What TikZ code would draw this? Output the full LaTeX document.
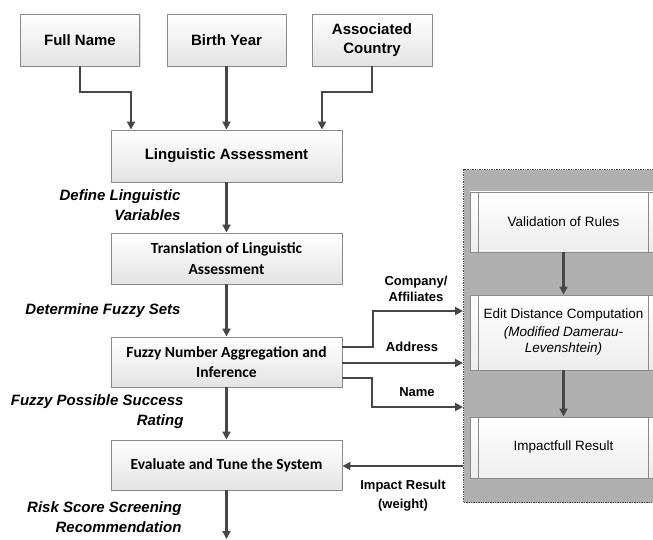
\documentclass[tikz,border=0pt]{standalone}
\usepackage{fontspec}
\setmainfont{Liberation Sans}
\newfontfamily\calib{Carlito}
\usetikzlibrary{arrows.meta,shadows}
\definecolor{boxline}{HTML}{8A8A8A}
\definecolor{arr}{HTML}{474747}
\definecolor{panelfill}{HTML}{B0B0B0}
\begin{document}
\begin{tikzpicture}[x=1pt,y=-1pt,
  box/.style={draw=boxline,line width=0.9pt,top color=white,bottom color=black!11,
    drop shadow={shadow xshift=1.2pt,shadow yshift=-1.2pt,opacity=0.25},
    align=center,inner sep=2pt},
  pbox/.style={draw=boxline,line width=0.9pt,top color=white,bottom color=black!7,
    align=center,inner sep=2pt,font=\fontsize{13.5}{18}\selectfont},
  toptext/.style={font=\fontsize{15}{19}\selectfont\bfseries},
  caltext/.style={font=\calib\fontsize{15.5}{20.5}\selectfont\bfseries},
  lab/.style={font=\fontsize{15}{20}\selectfont\bfseries\itshape,align=right,anchor=east},
  clab/.style={font=\fontsize{13}{16}\selectfont\bfseries,align=center},
  conn/.style={draw=arr,line width=2.3pt,-{Triangle[length=8pt,width=8pt]}}
]
\useasboundingbox[fill=white] (0,0) rectangle (653,540);

% right panel
\node (panel) [draw=arr,dash pattern=on 1.4pt off 1pt,line width=1.4pt,fill=panelfill,
  minimum width=214pt,minimum height=333pt,anchor=north west,inner sep=0pt] at (463,169) {};
\node (val) [pbox,minimum width=187pt,minimum height=60pt] at (563.5,222) {Validation of Rules};
\node (ed) [pbox,minimum width=187pt,minimum height=75pt] at (563.5,332.5)
  {Edit Distance Computation\\[-0.5pt]\textit{(Modified Damerau-}\\[-1.5pt]\textit{Levenshtein)}};
\node (im) [pbox,minimum width=187pt,minimum height=61pt] at (563.5,447.5) {Impactfull Result};
\foreach \b in {val,ed,im}{
  \draw[boxline,line width=0.9pt] ([xshift=9pt]\b.north west) -- ([xshift=9pt]\b.south west);
  \draw[boxline,line width=0.9pt] ([xshift=-9pt]\b.north east) -- ([xshift=-9pt]\b.south east);
}

% left column boxes
\node (fn) [box,toptext,minimum width=119pt,minimum height=52pt] at (80,40) {Full Name};
\node (by) [box,toptext,minimum width=119pt,minimum height=52pt] at (226.5,40) {Birth Year};
\node (ac) [box,toptext,minimum width=120pt,minimum height=52pt] at (372,40) {Associated\\Country};
\node (la) [box,toptext,minimum width=231pt,minimum height=52pt] at (226.5,156) {Linguistic Assessment};
\node (tr) [box,caltext,minimum width=231pt,minimum height=51pt] at (226.5,258.5) {Translation of Linguistic\\Assessment};
\node (fz) [box,caltext,minimum width=231pt,minimum height=50pt] at (226.5,362) {Fuzzy Number Aggregation and\\Inference};
\node (ev) [box,caltext,minimum width=231pt,minimum height=50pt] at (226.5,465) {Evaluate and Tune the System};

% labels
\node[lab] at (184,205) {Define Linguistic\\Variables};
\node[lab] at (184,311) {Determine Fuzzy Sets};
\node[lab] at (187,411.5) {Fuzzy Possible Success\\Rating};
\node[lab] at (185,517) {Risk Score Screening\\Recommendation};
\node[clab] at (416,289) {Company/\\Affiliates};
\node[clab] at (412,347) {Address};
\node[clab] at (417,392) {Name};
\node[clab] at (403,495.5) {Impact Result\\[3pt](weight)};

% connectors top
\coordinate (j1) at (131,92);
\coordinate (j2) at (322,92);
\draw[conn] (fn.south) |- (j1) -- (j1 |- la.north);
\draw[conn] (by.south) -- (by.south |- la.north);
\draw[conn] (ac.south) |- (j2) -- (j2 |- la.north);

% main column
\coordinate (out) at (226.5,539);
\draw[conn] (la.south) -- (tr.north);
\draw[conn] (tr.south) -- (fz.north);
\draw[conn] (fz.south) -- (ev.north);
\draw[conn] (ev.south) -- (out);

% fuzzy to panel
\coordinate (f1) at ([yshift=15pt]fz.east);
\coordinate (f2) at ([yshift=-1pt]fz.east);
\coordinate (f3) at ([yshift=-16pt]fz.east);
\coordinate (c1) at (373,311);
\coordinate (c3) at (372,407);
\draw[conn] (f1) -| (c1) -- (c1 -| panel.west);
\draw[conn] (f2) -- (f2 -| panel.west);
\draw[conn] (f3) -| (c3) -- (c3 -| panel.west);

% impact back
\coordinate (ir) at (463,466);
\draw[conn] (ir) -- (ir -| ev.east);

% panel internal
\draw[conn] (val.south) -- (ed.north);
\draw[conn] (ed.south) -- (im.north);
\end{tikzpicture}
\end{document}
